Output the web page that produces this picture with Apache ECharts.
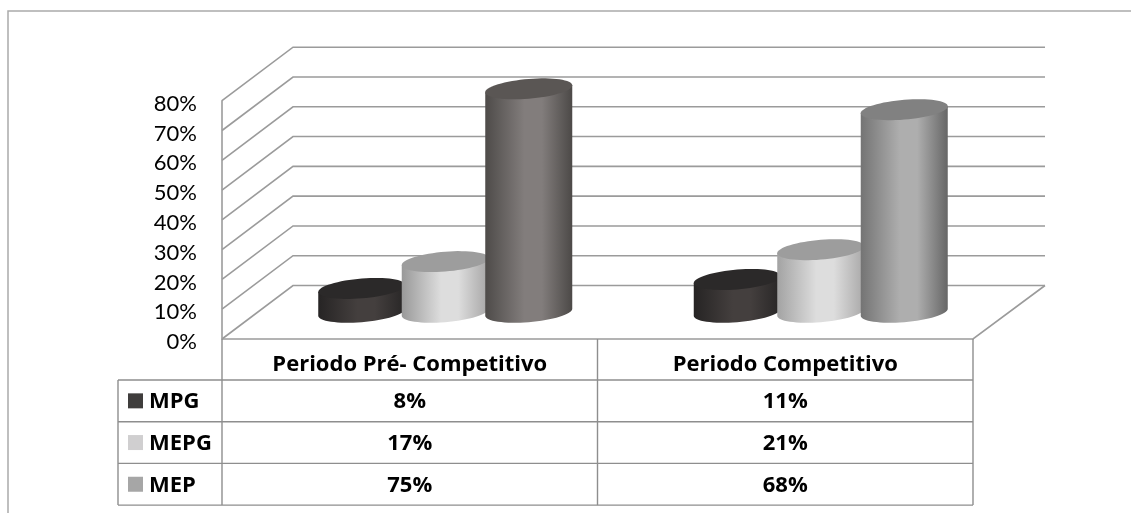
<!DOCTYPE html>
<html>
<head>
<meta charset="utf-8">
<title>MPG MEPG MEP</title>
<style>
html, body { margin: 0; padding: 0; background: #fff; }
#chart { width: 1131px; height: 513px; }
</style>
<script src="https://cdn.jsdelivr.net/npm/echarts@6/dist/echarts.min.js"></script>
</head>
<body>
<div id="chart"></div>
<script>
var periods = ['Periodo Pré- Competitivo', 'Periodo Competitivo'];
var seriesNames = ['MPG', 'MEPG', 'MEP'];
var mpgValues = [8, 11];
var mepgValues = [17, 21];
var mepValues = [75, 68];
var wallTicks = [0, 10, 20, 30, 40, 50, 60, 70, 80];

var allValues = [mpgValues, mepgValues, mepValues];

// cada cilindro: [borda esq, centro, borda dir, tampa]
var shades = [
    [['#262424', '#443f3e', '#282626', '#2b2929'], ['#262424', '#443f3e', '#282626', '#2b2929']],
    [['#999999', '#dddddd', '#a6a5a5', '#9d9d9d'], ['#a3a3a3', '#dddddd', '#a9a8a8', '#9d9d9d']],
    [['#4e4b49', '#827d7c', '#4c4947', '#5a5654'], ['#747474', '#aeaeae', '#666666', '#818181']]
];
var swatchColors = ['#3f3d3c', '#d0cfd0', '#a6a6a6'];

var lineColor = '#9b9b9b';
var depthX = 71, depthY = -53.5;
var headerH = 41, rowH = 41.7, tableLeft = 118;
var cylHalfW = 43.5, cylStep = 83.5;
var boldFont = 'bold 22px "Open Sans", Lato, sans-serif';

function ellipsePoint(cx, cy, t) {
    return [cx + cylHalfW * Math.cos(t), cy - 3.5 * Math.cos(t) + 9.9 * Math.sin(t)];
}

function renderCylinder(seriesIdx) {
    return function (params, api) {
        var cat = api.value(0);
        var base = api.coord([cat, 0]);
        var top = api.coord([cat, api.value(1)]);
        var cx = base[0] + depthX / 2 + (seriesIdx - 1) * cylStep;
        var by = base[1] + depthY / 2;
        var ty = top[1] + depthY / 2;
        var c = shades[seriesIdx][cat];
        var body = [], lid = [], i;
        for (i = 0; i <= 32; i++) {
            body.push(ellipsePoint(cx, by, Math.PI * i / 32));
        }
        body.push(ellipsePoint(cx, ty, Math.PI));
        body.push(ellipsePoint(cx, ty, 0));
        for (i = 0; i < 64; i++) {
            lid.push(ellipsePoint(cx, ty, Math.PI * 2 * i / 64));
        }
        return {
            type: 'group',
            children: [{
                type: 'polygon',
                shape: {points: body},
                style: {
                    fill: new echarts.graphic.LinearGradient(0, 0, 1, 0, [
                        {offset: 0, color: c[0]},
                        {offset: 0.45, color: c[1]},
                        {offset: 0.65, color: c[1]},
                        {offset: 1, color: c[2]}
                    ])
                }
            }, {
                type: 'polygon',
                shape: {points: lid},
                style: {fill: c[3]}
            }]
        };
    };
}

// paredes do grafico, uma linha por tick
function renderWall(params, api) {
    var sys = params.coordSys;
    var y = api.coord([0, api.value(1)])[1];
    return {
        type: 'polyline',
        shape: {points: [
            [sys.x, y],
            [sys.x + depthX, y + depthY],
            [sys.x + sys.width + depthX + 1, y + depthY]
        ]},
        style: {stroke: lineColor, lineWidth: 1.6, fill: null}
    };
}

function renderFloor(params, api) {
    var sys = params.coordSys;
    var y = sys.y + sys.height;
    var r = sys.x + sys.width;
    return {
        type: 'polyline',
        shape: {points: [[sys.x, y], [r, y], [r + depthX + 1, y + depthY]]},
        style: {stroke: lineColor, lineWidth: 1.6, fill: null}
    };
}

function renderTableRow(params, api) {
    var sys = params.coordSys;
    var row = api.value(0);
    var bottom = sys.y + sys.height;
    var top = bottom + headerH + row * rowH;
    var mid = top + rowH / 2;
    var kids = [{
        type: 'rect',
        shape: {x: tableLeft + 10, y: mid - 7.5, width: 15, height: 15},
        style: {fill: swatchColors[row]}
    }, {
        type: 'text',
        style: {
            text: seriesNames[row], x: tableLeft + 31, y: mid + 1,
            font: boldFont, fill: '#000',
            align: 'left', verticalAlign: 'middle'
        }
    }, {
        type: 'line',
        shape: {x1: tableLeft, y1: top + rowH, x2: sys.x + sys.width, y2: top + rowH},
        style: {stroke: '#8e8e8e', lineWidth: 1.4}
    }];
    if (row === 0) {
        kids.push({
            type: 'line',
            shape: {x1: tableLeft, y1: top, x2: sys.x + sys.width, y2: top},
            style: {stroke: '#8e8e8e', lineWidth: 1.4}
        });
    }
    periods.forEach(function (p, c) {
        kids.push({
            type: 'text',
            style: {
                text: allValues[row][c] + '%', x: api.coord([c, 0])[0], y: mid + 1,
                font: boldFont, fill: '#000',
                align: 'center', verticalAlign: 'middle'
            }
        });
    });
    return {type: 'group', children: kids};
}

// verticais da tabela
function renderTableCols(params, api) {
    var sys = params.coordSys;
    var bottom = sys.y + sys.height;
    var end = bottom + headerH + rowH * seriesNames.length;
    var xs = [sys.x, sys.x + sys.width / 2, sys.x + sys.width];
    var kids = xs.map(function (x) {
        return {
            type: 'line',
            shape: {x1: x, y1: bottom, x2: x, y2: end},
            style: {stroke: '#8e8e8e', lineWidth: 1.4}
        };
    });
    kids.push({
        type: 'line',
        shape: {x1: tableLeft, y1: bottom + headerH, x2: tableLeft, y2: end},
        style: {stroke: '#8e8e8e', lineWidth: 1.4}
    });
    return {type: 'group', children: kids};
}

var series = [
    {type: 'custom', silent: true, renderItem: renderFloor, data: [[0, 0]]},
    {type: 'custom', silent: true, renderItem: renderWall, data: wallTicks.map(function (v) { return [0, v]; })},
    {type: 'custom', silent: true, renderItem: renderTableCols, data: [[0, 0]]},
    {type: 'custom', silent: true, renderItem: renderTableRow, data: seriesNames.map(function (n, i) { return [i]; })}
];
seriesNames.forEach(function (name, s) {
    series.push({
        type: 'custom',
        name: name,
        renderItem: renderCylinder(s),
        encode: {x: 0, y: 1},
        data: allValues[s].map(function (v, i) { return [i, v]; })
    });
});

var chart = echarts.init(document.getElementById('chart'));
chart.setOption({
    animation: false,
    backgroundColor: '#fff',
    grid: {left: 222, top: 100.7, width: 751, height: 238.3},
    xAxis: {
        type: 'category',
        data: periods,
        axisTick: {show: false},
        axisLine: {show: false},
        axisLabel: {
            margin: 15,
            color: '#000',
            fontFamily: '"Open Sans", Lato, sans-serif',
            fontWeight: 'bold',
            fontSize: 22
        }
    },
    yAxis: {
        type: 'value',
        min: 0,
        max: 80,
        interval: 10,
        splitLine: {show: false},
        axisTick: {show: false},
        axisLine: {show: true, lineStyle: {color: lineColor, width: 1.6}},
        axisLabel: {
            margin: 25,
            verticalAlign: 'top',
            lineHeight: 6,
            formatter: '{value}%',
            color: '#000',
            fontFamily: 'Lato, "Open Sans", sans-serif',
            fontSize: 22
        }
    },
    graphic: [{
        type: 'polyline',
        silent: true,
        shape: {points: [[8, 513], [8, 11], [1131, 11]]},
        style: {stroke: '#ababab', lineWidth: 1.5, fill: null}
    }],
    series: series
});
</script>
</body>
</html>
